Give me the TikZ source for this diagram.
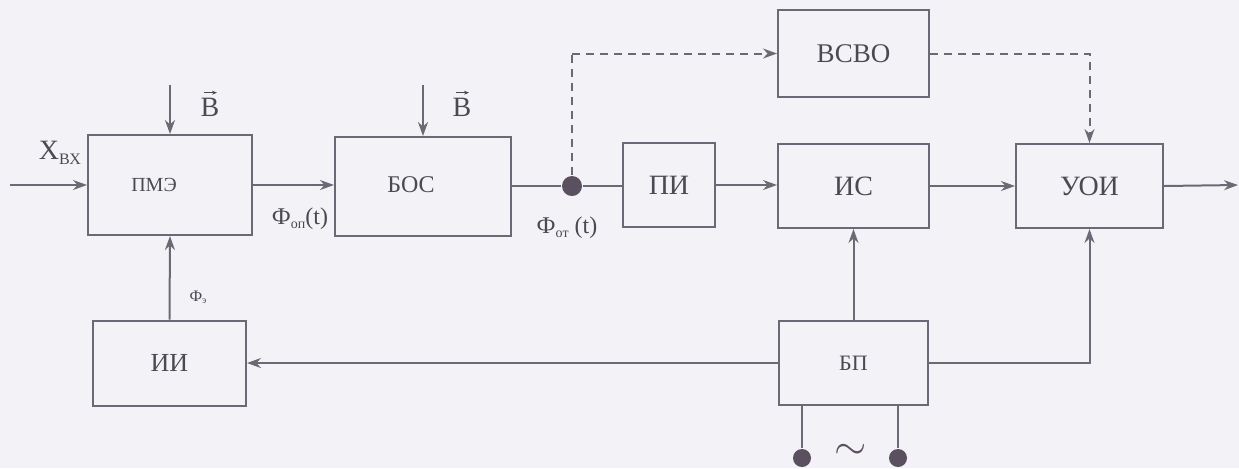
\documentclass[tikz,border=0pt]{standalone}
\usepackage{fontspec}
\setmainfont{Liberation Serif}
\usetikzlibrary{arrows.meta}
\definecolor{bg}{HTML}{F3F3F7}
\definecolor{ln}{HTML}{6A6A76}
\definecolor{tx}{HTML}{4A4A52}
\definecolor{dot}{HTML}{5A5060}
\tikzset{
  blk/.style={draw=ln, line width=1pt, rectangle, inner sep=0pt, text=tx},
  arr/.style={-{Stealth[length=7pt,width=5pt]}},
  vecarr/.style={line width=0.5pt, draw=tx, -{Stealth[length=2.5pt,width=2pt]}},
  dsh/.style={dash pattern=on 4pt off 3pt},
  lbl/.style={text=tx, inner sep=0pt},
}
\begin{document}
\begin{tikzpicture}[x=0.5pt,y=-0.5pt, line width=1pt, draw=ln, color=ln]
\fill[bg] (0,0) rectangle (1239,468);
\useasboundingbox (0,0) rectangle (1239,468);
% blocks
\node[blk, minimum width=82pt, minimum height=50pt, font=\fontsize{10}{10}\selectfont] (pme) at (170,185) {ПМЭ\kern16pt};
\node[blk, minimum width=88pt, minimum height=49.5pt, font=\fontsize{12}{12}\selectfont] (bos) at (423,186.5) {\raisebox{2pt}{БОС}\kern12pt};
\node[blk, minimum width=46pt, minimum height=42pt, font=\fontsize{14}{14}\selectfont] (pi) at (669,185) {ПИ};
\node[blk, minimum width=75.5pt, minimum height=43.5pt, font=\fontsize{13.5}{13.5}\selectfont] (vsvo) at (853.5,53.5) {ВСВО};
\node[blk, minimum width=75.5pt, minimum height=42pt, font=\fontsize{14}{14}\selectfont] (is) at (853.5,186) {ИС};
\node[blk, minimum width=73.5pt, minimum height=42pt, font=\fontsize{14}{14}\selectfont] (uoi) at (1089.5,186) {УОИ};
\node[blk, minimum width=76.5pt, minimum height=42.5pt, font=\fontsize{13}{13}\selectfont] (ii) at (169.5,363) {ИИ};
\node[blk, minimum width=74.5pt, minimum height=42pt, font=\fontsize{11}{11}\selectfont] (bp) at (853.5,363) {БП};
% junction and terminals
\node[circle, fill=dot, inner sep=0pt, minimum size=10pt] (j) at (572,186) {};
\node[circle, fill=dot, inner sep=0pt, minimum size=9pt] (t1) at (802,458) {};
\node[circle, fill=dot, inner sep=0pt, minimum size=9pt] (t2) at (898,458) {};
\node[lbl, text=dot] (tilde) at (851,452) {\fontsize{22}{22}\selectfont$\sim$};
% free ends
\coordinate (in) at (10,185);
\coordinate (out) at (1238,185);
\coordinate (b1) at (170,85);
\coordinate (b2) at (423,85);
\coordinate (c1) at (572,53.5);
% labels
\node[lbl] (xin) at (60,153) {\fontsize{14}{14}\selectfont X\raisebox{-0.35ex}{\fontsize{8}{8}\selectfont ВХ}};
\node[lbl, anchor=base] (lb1) at (210,116) {\fontsize{14}{14}\selectfont B};
\node[lbl, anchor=base] (lb2) at (462,116) {\fontsize{14}{14}\selectfont B};
\draw[vecarr] ([xshift=-3pt,yshift=2pt]lb1.north) -- ([xshift=3.5pt,yshift=2pt]lb1.north);
\draw[vecarr] ([xshift=-3pt,yshift=2pt]lb2.north) -- ([xshift=3.5pt,yshift=2pt]lb2.north);
\node[lbl] (fop) at (300,219) {\fontsize{12}{12}\selectfont Ф\raisebox{-0.35ex}{\fontsize{7}{7}\selectfont оп}(t)};
\node[lbl] (fot) at (567,228) {\fontsize{12}{12}\selectfont Ф\raisebox{-0.35ex}{\fontsize{7}{7}\selectfont от} (t)};
\node[lbl] (fe) at (198,297) {\fontsize{8}{8}\selectfont Ф\raisebox{-0.3ex}{\fontsize{5}{5}\selectfont э}};
% connectors
\draw[arr] (in) -- (pme.west);
\draw[arr] (b1) -- (pme.north);
\draw[arr] (b2) -- (bos.north);
\draw[arr] (pme.east) -- (pme.east -| bos.west);
\draw (bos.east |- j) -- (j);
\draw (j) -- (j -| pi.west);
\draw[arr] (pi.east) -- (pi.east -| is.west);
\draw[arr] (is) -- (uoi);
\draw[arr] (uoi.east) -- (out);
\draw[dsh] (j.north) -- (c1);
\draw[dsh, arr] (c1) -- (vsvo.west);
\draw[dsh, arr] (vsvo.east) -| (uoi.north);
\draw[arr] (bp) -- (is);
\draw[arr] (bp.east) -| (uoi.south);
\draw[arr] (bp.west) -- (ii.east);
\draw[arr] (ii.north) -- (pme.south);
\draw (bp.south -| t1) -- (t1);
\draw (bp.south -| t2) -- (t2);
\end{tikzpicture}
\end{document}
